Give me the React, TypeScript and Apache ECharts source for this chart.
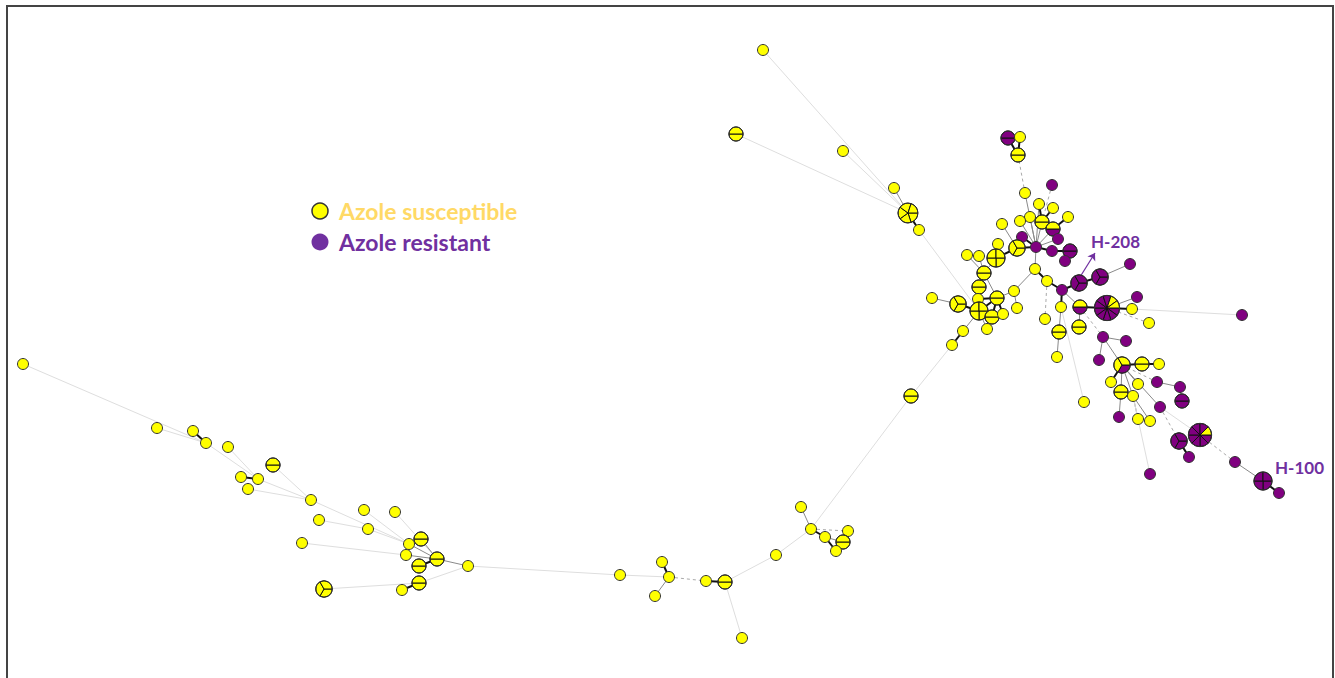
import React, { useEffect, useRef } from "react";
import * as echarts from "echarts";

// Node data: [id, x, y, segment colours (Y = susceptible, P = resistant)]
type N = [string, number, number, string];
type L = [string, string, string]; // from, to, style: k thick, g grey, l light, d dashed

const topNodes: N[] = [
  ["a1", 763, 50, "Y"], ["a2", 736, 134, "YY"], ["a3", 843, 151, "Y"],
  ["a4", 894, 188, "Y"], ["a5", 908, 213, "YYYYY"], ["a6", 919, 230, "Y"],
];
const leftNodes: N[] = [
  ["l1", 23, 364, "Y"], ["l2", 157, 428, "Y"], ["l3", 193, 431, "Y"], ["l4", 206, 443, "Y"],
  ["l5", 228, 447, "Y"], ["l6", 273, 465, "YY"], ["l7", 241, 477, "Y"], ["l8", 258, 479, "Y"],
  ["l9", 248, 489, "Y"], ["l10", 311, 500, "Y"], ["l11", 364, 510, "Y"], ["l12", 395, 512, "Y"],
  ["l13", 319, 520, "Y"], ["l14", 368, 529, "Y"], ["l15", 421, 539, "YY"], ["l16", 409, 544, "Y"],
  ["l17", 302, 543, "Y"], ["l18", 406, 555, "Y"], ["l19", 437, 559, "YY"], ["l20", 468, 566, "Y"],
  ["l21", 419, 566, "YY"], ["l22", 419, 583, "YY"], ["l23", 402, 590, "Y"], ["l24", 324, 589, "YYY"],
];
const middleNodes: N[] = [
  ["m1", 620, 575, "Y"], ["m2", 662, 562, "Y"], ["m3", 669, 577, "Y"], ["m4", 655, 596, "Y"],
  ["m5", 706, 581, "Y"], ["m6", 725, 582, "YY"], ["m7", 742, 638, "Y"], ["m8", 776, 555, "Y"],
  ["m9", 801, 507, "Y"], ["m10", 811, 529, "Y"], ["m11", 825, 537, "Y"], ["m12", 848, 531, "Y"],
  ["m13", 843, 542, "YY"], ["m14", 836, 551, "Y"], ["m15", 911, 396, "YY"],
];
const clusterNodes: N[] = [
  ["c1", 932, 298, "Y"], ["c2", 958, 304, "YYY"], ["c3", 984, 273, "YY"], ["c4", 979, 287, "YY"],
  ["c5", 978, 299, "Y"], ["c6", 997, 298, "YY"], ["c7", 979, 311, "YYYY"], ["c8", 992, 317, "YY"],
  ["c9", 1003, 314, "Y"], ["c10", 987, 329, "Y"], ["c11", 963, 331, "Y"], ["c12", 952, 345, "Y"],
  ["c13", 1014, 291, "Y"], ["c14", 1017, 308, "Y"], ["c15", 1035, 269, "Y"], ["c16", 1047, 281, "Y"],
  ["c17", 1062, 290, "P"], ["c18", 1079, 283, "PPP"], ["c19", 1100, 277, "PPP"], ["c20", 1130, 264, "P"],
  ["c21", 1061, 307, "Y"], ["c22", 1080, 307, "PY"], ["c23", 1079, 327, "YY"], ["c24", 1045, 319, "Y"],
  ["c25", 1059, 332, "YY"], ["c26", 1057, 357, "Y"], ["c27", 1107, 308, "PPPPPPPPYY"], ["c28", 1137, 297, "P"],
  ["c29", 1132, 309, "Y"], ["c30", 1149, 323, "Y"], ["c31", 1242, 315, "P"], ["c32", 1084, 402, "Y"],
];
const upperNodes: N[] = [
  ["u1", 1008, 138, "PP"], ["u2", 1020, 137, "Y"], ["u3", 1018, 155, "YY"], ["u4", 1025, 193, "Y"],
  ["u5", 1052, 185, "P"], ["u6", 1039, 204, "Y"], ["u7", 1053, 208, "Y"], ["u8", 1068, 217, "Y"],
  ["u9", 1030, 217, "Y"], ["u10", 1020, 221, "Y"], ["u11", 1042, 222, "YY"], ["u12", 1053, 229, "PY"],
  ["u13", 1002, 224, "Y"], ["u14", 1022, 237, "P"], ["u15", 1036, 247, "P"], ["u16", 1017, 248, "YYY"],
  ["u17", 998, 244, "Y"], ["u18", 996, 258, "YYYY"], ["u19", 967, 255, "Y"], ["u20", 979, 256, "Y"],
  ["u21", 1058, 239, "P"], ["u22", 1052, 251, "P"], ["u23", 1070, 251, "PP"], ["u24", 1065, 261, "P"],
];
const rightNodes: N[] = [
  ["r1", 1103, 337, "P"], ["r2", 1126, 341, "P"], ["r3", 1099, 360, "P"], ["r4", 1122, 365, "PYY"],
  ["r5", 1142, 364, "YY"], ["r6", 1159, 364, "Y"], ["r7", 1111, 382, "Y"], ["r8", 1121, 392, "YY"],
  ["r9", 1138, 384, "Y"], ["r10", 1133, 396, "Y"], ["r11", 1157, 382, "P"], ["r12", 1180, 387, "P"],
  ["r13", 1182, 401, "PP"], ["r14", 1160, 407, "P"], ["r15", 1119, 417, "P"], ["r16", 1138, 419, "Y"],
  ["r17", 1150, 421, "Y"], ["r18", 1179, 441, "PPP"], ["r19", 1200, 435, "PPPPPPPY"], ["r20", 1189, 457, "P"],
  ["r21", 1235, 462, "P"], ["r22", 1263, 481, "PPPP"], ["r23", 1279, 493, "P"], ["r24", 1150, 474, "P"],
];

const topLinks: L[] = [
  ["a1", "a5", "l"], ["a2", "a5", "l"], ["a3", "a5", "l"], ["a4", "a5", "g"], ["a5", "a6", "k"], ["a6", "c7", "l"],
];
const leftLinks: L[] = [
  ["l1", "l4", "l"], ["l2", "l4", "l"], ["l3", "l4", "k"], ["l4", "l8", "l"], ["l5", "l8", "l"], ["l7", "l8", "k"],
  ["l8", "l10", "l"], ["l9", "l10", "l"], ["l6", "l10", "l"], ["l10", "l16", "l"], ["l11", "l16", "l"],
  ["l12", "l19", "l"], ["l13", "l14", "l"], ["l14", "l16", "l"], ["l17", "l18", "l"], ["l16", "l19", "g"],
  ["l15", "l19", "g"], ["l18", "l19", "g"], ["l21", "l19", "k"], ["l19", "l20", "g"], ["l20", "l22", "l"],
  ["l22", "l23", "k"], ["l24", "l22", "l"], ["l20", "m1", "l"],
];
const middleLinks: L[] = [
  ["m1", "m3", "l"], ["m2", "m3", "k"], ["m4", "m3", "g"], ["m3", "m5", "d"], ["m5", "m6", "k"], ["m6", "m7", "l"],
  ["m6", "m8", "l"], ["m8", "m10", "l"], ["m9", "m10", "g"], ["m10", "m11", "k"], ["m10", "m12", "d"],
  ["m11", "m13", "g"], ["m11", "m14", "k"], ["m13", "m14", "k"], ["m10", "m15", "l"], ["m15", "c12", "l"],
];
const clusterLinks: L[] = [
  ["c1", "c2", "g"], ["c2", "c7", "k"], ["c7", "c11", "g"], ["c11", "c12", "k"], ["c7", "c10", "g"],
  ["c7", "c8", "k"], ["c7", "c6", "k"], ["c5", "c6", "k"], ["c6", "c8", "k"], ["c6", "c9", "k"], ["c7", "c9", "k"],
  ["c4", "c7", "g"], ["c3", "c4", "k"], ["c3", "c6", "g"], ["c6", "c13", "g"], ["c13", "c14", "g"],
  ["c13", "c15", "g"], ["c15", "c16", "k"], ["c16", "c17", "k"], ["c17", "c18", "k"], ["c18", "c19", "k"],
  ["c19", "c20", "g"], ["c17", "c21", "k"], ["c21", "c25", "g"], ["c25", "c26", "g"], ["c17", "c22", "g"],
  ["c22", "c23", "g"], ["c22", "c27", "k"], ["c16", "c24", "d"], ["c27", "c28", "g"], ["c27", "c29", "k"],
  ["c29", "c31", "l"], ["c27", "c30", "d"], ["c21", "c32", "l"], ["c22", "r1", "d"], ["u15", "c15", "g"],
];
const upperLinks: L[] = [
  ["u1", "u3", "k"], ["u2", "u3", "k"], ["u3", "u4", "d"], ["u4", "u15", "g"], ["u5", "u11", "d"],
  ["u6", "u11", "k"], ["u7", "u11", "k"], ["u9", "u15", "g"], ["u6", "u15", "g"], ["u10", "u15", "g"],
  ["u13", "u16", "g"], ["u11", "u15", "g"], ["u12", "u15", "g"], ["u8", "u12", "k"], ["u14", "u15", "k"],
  ["u16", "u15", "k"], ["u21", "u15", "g"], ["u22", "u15", "k"], ["u22", "u23", "k"], ["u23", "u24", "k"],
  ["u16", "u18", "k"], ["u17", "u18", "g"], ["u19", "c3", "g"], ["u20", "c3", "g"], ["u18", "c3", "g"],
];
const rightLinks: L[] = [
  ["r1", "r2", "g"], ["r1", "r3", "g"], ["r1", "r4", "g"], ["r4", "r5", "k"], ["r5", "r6", "k"], ["r4", "r7", "k"],
  ["r4", "r8", "g"], ["r4", "r9", "g"], ["r4", "r10", "g"], ["r4", "r11", "d"], ["r11", "r12", "g"],
  ["r12", "r13", "g"], ["r4", "r14", "g"], ["r8", "r15", "g"], ["r10", "r16", "g"], ["r10", "r17", "g"],
  ["r10", "r24", "l"], ["r14", "r18", "d"], ["r14", "r19", "l"], ["r18", "r20", "k"], ["r19", "r21", "d"],
  ["r21", "r22", "g"], ["r22", "r23", "k"],
];

const legendLabels = ["Azole susceptible", "Azole resistant"];
const haplotypeLabels: [string, string][] = [["H-208", "c18"], ["H-100", "r22"]];

const YELLOW = "#FFFF00";
const PURPLE = "#800080";

export default function App() {
  const ref = useRef<HTMLDivElement>(null);
  useEffect(() => {
    if (!ref.current) return;
    const chart = echarts.init(ref.current, undefined, { renderer: "svg" });
    const nodes = [...topNodes, ...leftNodes, ...middleNodes, ...clusterNodes, ...upperNodes, ...rightNodes];
    const links = [...topLinks, ...leftLinks, ...middleLinks, ...clusterLinks, ...upperLinks, ...rightLinks];
    const byId: Record<string, N> = {};
    nodes.forEach((n) => (byId[n[0]] = n));
    const radius = (k: number) => 5.5 * Math.pow(k, 0.36);
    const styleOf = (s: string) => {
      if (s === "k") return { color: "#111", width: 2, type: "solid" };
      if (s === "g") return { color: "#8a8a8a", width: 1, type: "solid" };
      if (s === "d") return { color: "#aaaaaa", width: 1, type: [3, 3] };
      return { color: "#dedede", width: 1, type: "solid" };
    };
    const lineData = links.map(([a, b, s]) => ({
      coords: [[byId[a][1], byId[a][2]], [byId[b][1], byId[b][2]]],
      lineStyle: { ...styleOf(s), opacity: 1, curveness: 0 },
    }));

    const h208 = byId[haplotypeLabels[0][1]];

    chart.setOption({
      animation: false,
      grid: { left: 0, right: 0, top: 0, bottom: 0 },
      xAxis: { type: "value", min: 0, max: 1335, show: false },
      yAxis: { type: "value", min: 0, max: 678, inverse: true, show: false },
      series: [
        {
          type: "lines",
          coordinateSystem: "cartesian2d",
          data: lineData,
          silent: true,
          z: 1,
        },
        {
          type: "lines",
          coordinateSystem: "cartesian2d",
          symbol: ["none", "arrow"],
          symbolSize: 7,
          data: [{ coords: [[h208[1] + 1, h208[2] - 6], [h208[1] + 16, h208[2] - 30]] }],
          lineStyle: { color: "#7030A0", width: 1.2, opacity: 1 },
          z: 2,
        },
        {
          type: "custom",
          coordinateSystem: "cartesian2d",
          z: 3,
          data: nodes.map((n, i) => [n[1], n[2], i]),
          renderItem: (params: any, api: any) => {
            const n = nodes[api.value(2)];
            const pt = api.coord([api.value(0), api.value(1)]);
            const segs = n[3];
            const k = segs.length;
            const r = radius(k);
            const col = (c: string) => (c === "P" ? PURPLE : YELLOW);
            if (k === 1) {
              return {
                type: "circle",
                shape: { cx: pt[0], cy: pt[1], r },
                style: { fill: col(segs), stroke: "#333", lineWidth: 1 },
              };
            }
            const children: any[] = segs.split("").map((c, i) => ({
              type: "sector",
              shape: {
                cx: pt[0], cy: pt[1], r0: 0, r,
                startAngle: (i * 2 * Math.PI) / k,
                endAngle: ((i + 1) * 2 * Math.PI) / k,
                clockwise: true,
              },
              style: { fill: col(c), stroke: "#111", lineWidth: 1 },
            }));
            children.push({
              type: "circle",
              shape: { cx: pt[0], cy: pt[1], r },
              style: { fill: "none", stroke: "#333", lineWidth: 1 },
            });
            return { type: "group", children };
          },
        },
      ],
      graphic: [
        {
          type: "rect",
          shape: { x: 7, y: 6, width: 1326, height: 800 },
          style: { fill: "none", stroke: "#444", lineWidth: 2 },
          z: 0,
        },
        {
          type: "circle",
          shape: { cx: 320, cy: 211, r: 8 },
          style: { fill: YELLOW, stroke: "#333", lineWidth: 1.5 },
        },
        {
          type: "circle",
          shape: { cx: 320, cy: 242, r: 8.5 },
          style: { fill: "#7030A0" },
        },
        {
          type: "text",
          x: 339, y: 211,
          style: {
            text: legendLabels[0], fill: "#FFD966", font: "bold 23px Lato",
            verticalAlign: "middle",
          },
        },
        {
          type: "text",
          x: 339, y: 242,
          style: {
            text: legendLabels[1], fill: "#7030A0", font: "bold 23px Lato",
            verticalAlign: "middle",
          },
        },
        {
          type: "text",
          x: 1091, y: 241,
          style: {
            text: haplotypeLabels[0][0], fill: "#7030A0", font: "bold 17px Lato",
            verticalAlign: "middle",
          },
        },
        {
          type: "text",
          x: 1275, y: 467,
          style: {
            text: haplotypeLabels[1][0], fill: "#7030A0", font: "bold 17px Lato",
            verticalAlign: "middle",
          },
        },
      ],
    });
    return () => chart.dispose();
  }, []);
  return (
    <div
      ref={ref}
      style={{ position: "fixed", left: 0, top: 0, width: 1335, height: 678, background: "#fff" }}
    />
  );
}
